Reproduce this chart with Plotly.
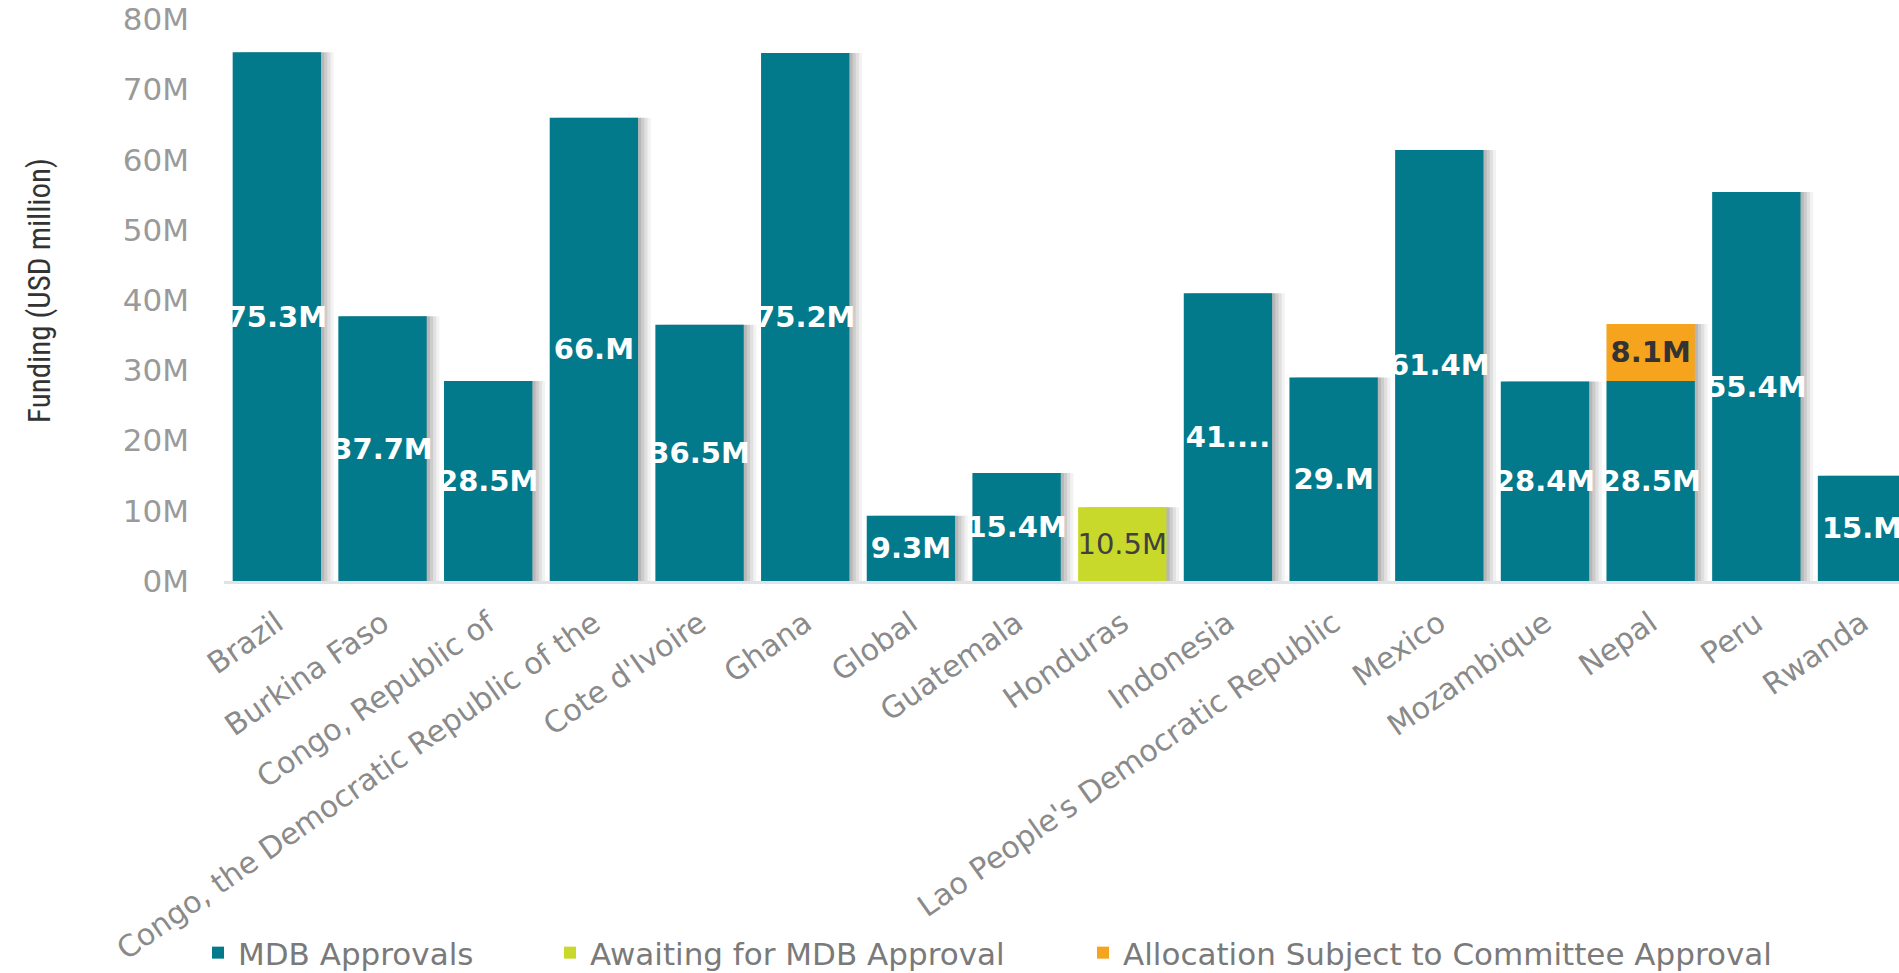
import plotly.graph_objects as go

categories = ["Brazil", "Burkina Faso", "Congo, Republic of",
              "Congo, the Democratic Republic of the", "Cote d'Ivoire", "Ghana",
              "Global", "Guatemala", "Honduras", "Indonesia",
              "Lao People's Democratic Republic", "Mexico", "Mozambique",
              "Nepal", "Peru", "Rwanda"]
mdb_approvals = [75.3, 37.7, 28.5, 66.0, 36.5, 75.2, 9.3, 15.4, None, 41.0,
                 29.0, 61.4, 28.4, 28.5, 55.4, 15.0]
mdb_labels = ["75.3M", "37.7M", "28.5M", "66.M", "36.5M", "75.2M", "9.3M", "15.4M", "",
              "41....", "29.M", "61.4M", "28.4M", "28.5M", "55.4M", "15.M"]
awaiting_approval = [None, None, None, None, None, None, None, None, 10.5,
                     None, None, None, None, None, None, None]
awaiting_labels = ["", "", "", "", "", "", "", "", "10.5M", "", "", "", "", "", "", ""]
committee_allocation = [None, None, None, None, None, None, None, None, None,
                        None, None, None, None, 8.1, None, None]
committee_labels = ["", "", "", "", "", "", "", "", "", "", "", "", "", "8.1M", "", ""]
y_tick_values = [0, 10, 20, 30, 40, 50, 60, 70, 80]
y_tick_labels = ["0M", "10M", "20M", "30M", "40M", "50M", "60M", "70M", "80M"]

TEAL = "#027A8B"
LIME = "#C9D92B"
ORANGE = "#F6A31D"
BW = 0.836
OFF = -BW / 2

def v(x):
    return 0 if x is None else x

totals = [v(a) + v(b) + v(c) for a, b, c in zip(mdb_approvals, awaiting_approval, committee_allocation)]
committee_base = [v(a) for a in mdb_approvals]

fig = go.Figure()

# soft drop shadows
for d, a in ((0.030, 0.10), (0.060, 0.09), (0.090, 0.07), (0.120, 0.05)):
    fig.add_trace(go.Bar(x=categories, y=totals, width=BW, offset=OFF + d,
                         marker=dict(color="rgba(0,0,0,%s)" % a, line=dict(width=0)),
                         showlegend=False, hoverinfo="skip"))

fig.add_trace(go.Bar(
    name="MDB Approvals", x=categories, y=mdb_approvals, width=BW, offset=OFF,
    marker=dict(color=TEAL, line=dict(width=0)),
    text=mdb_labels, textposition="inside", insidetextanchor="middle",
    textangle=0, constraintext="none",
    textfont=dict(family="DejaVu Sans", size=29, color="white", weight="bold"),
    legend="legend"))

fig.add_trace(go.Bar(
    name="Awaiting for MDB Approval", x=categories, y=awaiting_approval, width=BW, offset=OFF,
    marker=dict(color=LIME, line=dict(width=0)),
    text=awaiting_labels, textposition="inside", insidetextanchor="middle",
    textangle=0, constraintext="none",
    textfont=dict(family="DejaVu Sans", size=29, color="#404040"),
    legend="legend2"))

fig.add_trace(go.Bar(
    name="Allocation Subject to Committee Approval", x=categories, y=committee_allocation,
    base=committee_base, width=BW, offset=OFF,
    marker=dict(color=ORANGE, line=dict(width=0)),
    text=committee_labels, textposition="inside", insidetextanchor="middle",
    textangle=0, constraintext="none",
    textfont=dict(family="DejaVu Sans", size=29, color="#333333", weight="bold"),
    legend="legend3"))

legend_common = dict(xref="container", yref="container", xanchor="left", yanchor="middle",
                     orientation="h", bgcolor="rgba(0,0,0,0)", borderwidth=0,
                     font=dict(family="DejaVu Sans", size=31, color="#7a7a7a"))

fig.update_layout(
    width=1899, height=973,
    barmode="overlay",
    plot_bgcolor="white", paper_bgcolor="white",
    margin=dict(l=224, r=0, t=0, b=392),
    showlegend=True,
    legend=dict(x=198 / 1899, y=20 / 973, **legend_common),
    legend2=dict(x=550 / 1899, y=20 / 973, **legend_common),
    legend3=dict(x=1083 / 1899, y=20 / 973, **legend_common),
    xaxis=dict(
        range=[-0.5, 15.35], showgrid=False, zeroline=False,
        showline=True, linecolor="#dfe3e6", linewidth=3,
        tickangle=-35, ticks="", automargin=False, ticklabelstandoff=10,
        tickfont=dict(family="DejaVu Sans", size=30, color="#8a8a8a"),
    ),
    yaxis=dict(
        range=[0, 82.76], showgrid=False, zeroline=False, showline=False,
        tickvals=y_tick_values, ticktext=y_tick_labels, ticks="",
        ticklabelstandoff=34, automargin=False,
        tickfont=dict(family="DejaVu Sans", size=31, color="#9a9a9a"),
        title=dict(text="Funding (USD million)", standoff=62,
                   font=dict(family="Liberation Sans Narrow, Roboto Condensed, sans-serif",
                             size=31, color="#333333")),
    ),
)

fig.write_html("out.html")
